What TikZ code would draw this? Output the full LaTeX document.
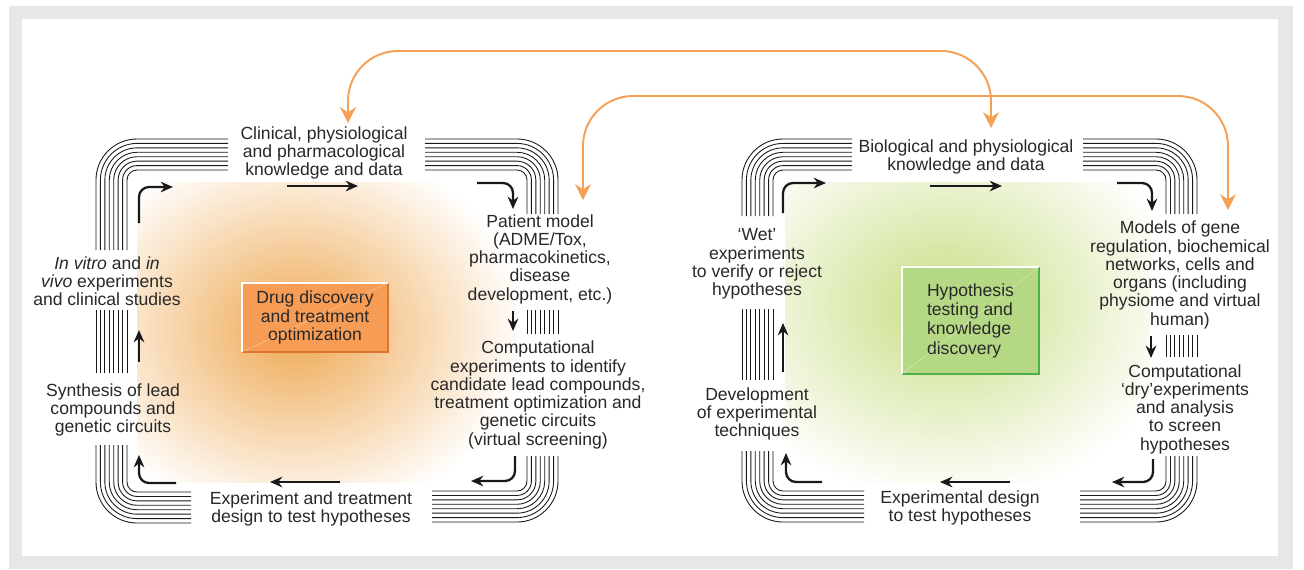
\documentclass[tikz,border=0pt]{standalone}
\usepackage{fontspec}
\setmainfont{Liberation Sans}
\usetikzlibrary{arrows.meta,positioning}

\definecolor{framegray}{RGB}{230,231,233}
\definecolor{txt}{RGB}{40,40,40}
\definecolor{linkor}{RGB}{246,160,86}
\definecolor{glowor}{RGB}{238,168,82}
\definecolor{boxor}{RGB}{246,156,84}
\definecolor{boxordk}{RGB}{222,118,48}
\definecolor{glowgr}{RGB}{200,222,132}
\definecolor{boxgr}{RGB}{181,216,132}
\definecolor{boxgrdk}{RGB}{76,178,72}

% eight parallel lines turning a corner: centre x, centre y, sx, sy, end x, end y
\newcommand{\bundlecorner}[6]{%
  \foreach \i in {0,...,7}{%
    \pgfmathsetmacro{\brad}{10+4.43*\i}%
    \pgfmathsetmacro{\bradcm}{\brad*0.02}%
    \pgfmathsetmacro{\bx}{#1+(#3)*\brad}%
    \pgfmathsetmacro{\by}{#2+(#4)*\brad}%
    \draw[bundle,rounded corners=\bradcm cm] (#5,\by) -- (\bx,\by) -- (\bx,#6);
  }}
% eight straight parallel lines: centre x, sx, top y, bottom y
\newcommand{\bundlestraight}[4]{%
  \foreach \i in {0,...,7}{%
    \pgfmathsetmacro{\bx}{#1+(#2)*(10+4.43*\i)}%
    \draw[bundle] (\bx,#3) -- (\bx,#4);
  }}

\begin{document}
\begin{tikzpicture}[x=0.02cm,y=-0.02cm,
  font=\fontsize{10}{10.4}\selectfont,
  bundle/.style={line width=0.5pt,black!90},
  flow/.style={line width=1.3pt,black!90,rounded corners=0.2cm,-{Stealth[length=7pt,width=6pt]}},
  link/.style={linkor,line width=1.1pt,rounded corners=1cm,{Stealth[length=9pt,width=9pt]}-{Stealth[length=9pt,width=9pt]}},
  lbl/.style={align=center,text=txt,inner sep=0pt},
  drugbox/.style={fill=boxor,minimum width=2.92cm,minimum height=1.38cm,align=center,text=txt},
  hypbox/.style={fill=boxgr,minimum width=2.74cm,minimum height=2.14cm,align=left,text=txt,
    font=\fontsize{10}{11}\selectfont}]
\useasboundingbox (0,0) rectangle (1304,569);
\fill[framegray] (9,6) rectangle (1293,569);
\fill[white] (22,19) rectangle (1278,556);

% glows
\begin{scope}
  \clip (137,182) rectangle (520,482);
  \shade[inner color=glowor,outer color=white] (295,330) ellipse (230 and 190);
\end{scope}
\begin{scope}
  \clip (785,182) rectangle (1150,482);
  \shade[inner color=glowgr,outer color=white] (945,305) ellipse (240 and 195);
\end{scope}

% line bundles
\bundlecorner{137}{180}{-1}{-1}{228}{250}
\bundlecorner{517}{180}{1}{-1}{425}{214}
\bundlecorner{517}{481}{1}{1}{432}{456}
\bundlecorner{137}{482}{-1}{1}{191}{445}
\bundlestraight{137}{-1}{310}{373}
\bundlestraight{517}{1}{310}{334}
\bundlecorner{783}{180}{-1}{-1}{852}{216}
\bundlecorner{1156}{180}{1}{-1}{1083}{214}
\bundlecorner{1156}{481}{1}{1}{1080}{456}
\bundlecorner{783}{481}{-1}{1}{864}{451}
\bundlestraight{783}{-1}{309}{380}
\bundlestraight{1156}{1}{335}{357}

% left cycle
\node[lbl] (clin) at (324,153) {Clinical, physiological\\and pharmacological\\knowledge and data};
\node[lbl] (patient) at (540,259) {Patient model\\(ADME/Tox,\\pharmacokinetics,\\disease\\development, etc.)};
\node[lbl] (compexp) at (538,395) {Computational\\experiments to identify\\candidate lead compounds,\\treatment optimization and\\genetic circuits\\(virtual screening)};
\node[lbl] (design) at (311,509) {Experiment and treatment\\design to test hypotheses};
\node[lbl] (synth) at (113,410) {Synthesis of lead\\compounds and\\genetic circuits};
\node[lbl] (invitro) at (107,281) {\textit{In vitro} and \textit{in}\\\textit{vivo} experiments\\and clinical studies};
\node[drugbox] (drug) at (315,317.5) {Drug discovery\\and treatment\\optimization};
\draw[white,opacity=0.35,line width=0.4pt] (drug.south west) -- (drug.north east);
\draw[boxordk,line width=1pt] (drug.south west) -| (drug.north east);
\draw[white,line width=1pt] (drug.south west) |- (drug.north east);

% right cycle
\node[lbl] (bio) at (966,157) {Biological and physiological\\knowledge and data};
\node[lbl] (models) at (1180,275) {Models of gene\\regulation, biochemical\\networks, cells and\\organs (including\\physiome and virtual\\human)};
\node[lbl] (dry) at (1185,409) {Computational\\`dry'experiments\\and analysis\\to screen\\hypotheses};
\node[lbl] (expdesign) at (960,508) {Experimental design\\to test hypotheses};
\node[lbl] (dev) at (757,414) {Development\\of experimental\\techniques};
\node[lbl] (wet) at (757,264) {`Wet'\\experiments\\to verify or reject\\hypotheses};
\node[hypbox] (hyp) at (970.5,320.5) {Hypothesis\\testing and\\knowledge\\discovery};
\draw[white,opacity=0.35,line width=0.4pt] (hyp.south west) -- (hyp.north east);
\draw[boxgrdk,line width=1pt] (hyp.south west) -| (hyp.north east);
\draw[white,line width=1pt] (hyp.south west) |- (hyp.north east);

% flow arrow ends
\foreach \n/\p in {a1s/{139,223},a1e/{173,187},a2s/{287,186},a2e/{358,186},
    a3s/{477,183},a3e/{513,209},a4s/{513,311},a4e/{513,331},
    a5s/{515,456},a5e/{471,481},a6s/{340,482},a6e/{270,482},
    a7s/{176,483},a7e/{139,455},a8s/{139,362},a8e/{139,330},
    b1s/{783,213},b1e/{826,183},b2s/{930,186},b2e/{1002,186},
    b3s/{1117,183},b3e/{1152,211},b4s/{1151,336},b4e/{1151,358},
    b5s/{1153,459},b5e/{1112,482},b6s/{1010,482},b6e/{940,482},
    b7s/{822,482},b7e/{786,453},b8s/{783,372},b8e/{783,323}}
  \coordinate (\n) at (\p);

\draw[flow] (a1s) |- (a1e);
\draw[flow] (a2s) -- (a2e);
\draw[flow] (a3s) -| (a3e);
\draw[flow] (a4s) -- (a4e);
\draw[flow] (a5s) |- (a5e);
\draw[flow] (a6s) -- (a6e);
\draw[flow] (a7s) -| (a7e);
\draw[flow] (a8s) -- (a8e);
\draw[flow] (b1s) |- (b1e);
\draw[flow] (b2s) -- (b2e);
\draw[flow] (b3s) -| (b3e);
\draw[flow] (b4s) -- (b4e);
\draw[flow] (b5s) |- (b5e);
\draw[flow] (b6s) -- (b6e);
\draw[flow] (b7s) -| (b7e);
\draw[flow] (b8s) -- (b8e);

% links between the two cycles
\coordinate (knowl) at (348,123);
\coordinate (knowr) at (991,128);
\coordinate (modell) at (583,200);
\coordinate (modelr) at (1228,210);
\draw[link] (knowl) -- ++(0,-72) -| (knowr);
\draw[link] (modell) -- ++(0,-104) -| (modelr);
\end{tikzpicture}
\end{document}
